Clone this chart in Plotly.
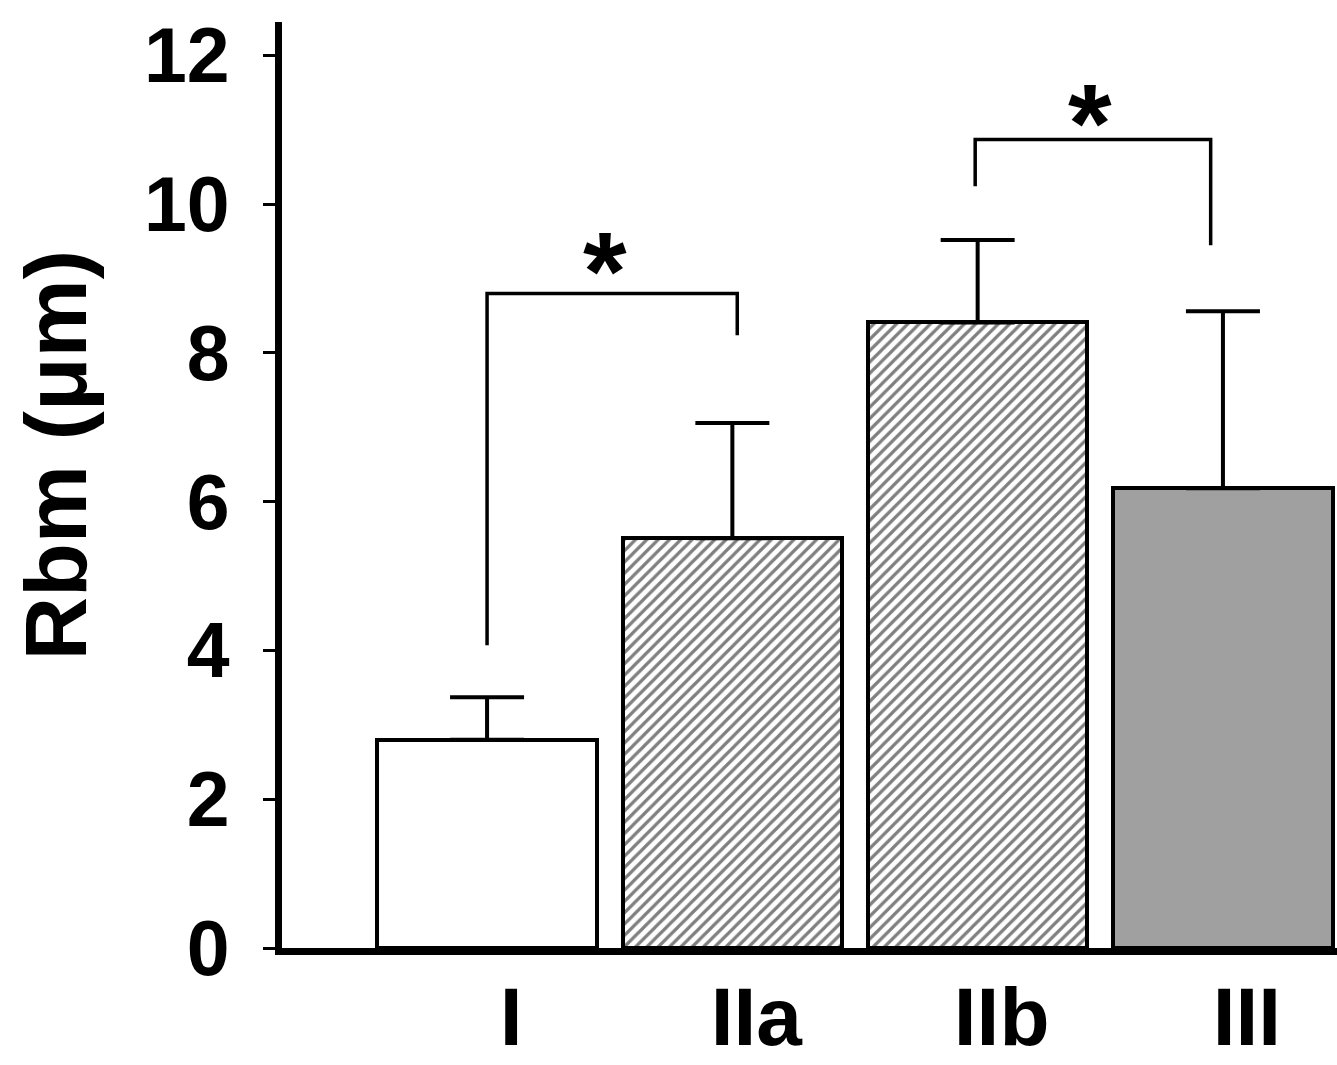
import plotly.graph_objects as go

# Basement-membrane radius (Rbm, µm) by group, mean with upper error
categories = ["I", "IIa", "IIb", "III"]
means = [2.80, 5.51, 8.41, 6.18]
errors = [0.57, 1.55, 1.11, 2.38]
y_ticks = [0, 2, 4, 6, 8, 10, 12]

# Bar styling per group: fill colour and hatch
fills = ["white", "white", "white", "#a0a0a0"]
hatched = [False, True, True, False]

# Significance brackets: (left x, right x, top y, left-leg bottom, right-leg bottom)
bracket_left_x = [0.0, 1.99]
bracket_right_x = [1.02, 2.95]
bracket_top = [8.80, 10.87]
bracket_left_low = [4.07, 10.24]
bracket_right_low = [8.24, 9.45]
star_x = [0.48, 2.46]
star_y = [9.45, 11.44]

FONT = "Liberation Sans, Arial, Helvetica, sans-serif"
xpos = list(range(len(categories)))

fig = go.Figure()

for i in xpos:
    marker = dict(color=fills[i], line=dict(color="black", width=4))
    if hatched[i]:
        marker["pattern"] = dict(shape="/", fgcolor="black", bgcolor="white",
                                 size=8, solidity=0.4)
    fig.add_trace(go.Bar(
        x=[xpos[i]],
        y=[means[i]],
        width=0.895,
        marker=marker,
        error_y=dict(type="data", symmetric=False, array=[errors[i]],
                     arrayminus=[0], color="black", thickness=4, width=37),
        showlegend=False,
        hoverinfo="skip",
    ))

for i in range(len(bracket_top)):
    fig.add_trace(go.Scatter(
        x=[bracket_left_x[i], bracket_left_x[i], bracket_right_x[i], bracket_right_x[i]],
        y=[bracket_left_low[i], bracket_top[i], bracket_top[i], bracket_right_low[i]],
        mode="lines",
        line=dict(color="black", width=3.5),
        showlegend=False,
        hoverinfo="skip",
    ))

for sx, sy in zip(star_x, star_y):
    fig.add_annotation(x=sx, y=sy, text="*", showarrow=False,
                       xanchor="center", yanchor="middle", yshift=-26,
                       font=dict(family=FONT, size=112, color="black", weight="bold"))

fig.add_annotation(
    text="Rbm (\u03bcm)", textangle=-90, showarrow=False,
    xref="paper", yref="paper", x=-0.215, y=0.532,
    xanchor="center", yanchor="middle",
    font=dict(family=FONT, size=88, color="black", weight="bold"),
)

fig.update_xaxes(
    range=[-0.836, 3.465],
    tickvals=xpos,
    ticktext=categories,
    ticks="",
    showline=True, linecolor="black", linewidth=7,
    showgrid=False, zeroline=False,
    tickfont=dict(family=FONT, size=82, color="black", weight="bold"),
    ticklabelshift=24,
    ticklabelstandoff=-8,
    automargin=False,
)
fig.update_yaxes(
    range=[0, 12.45],
    tickvals=y_ticks,
    ticks="outside", ticklen=12, tickwidth=3, tickcolor="black",
    showline=True, linecolor="black", linewidth=7,
    showgrid=False, zeroline=False,
    tickfont=dict(family=FONT, size=77, color="black", weight="bold"),
    ticklabelstandoff=18,
    automargin=False,
)

fig.update_layout(
    width=1337, height=1065,
    margin=dict(l=282, r=0, t=22, b=117),
    plot_bgcolor="white", paper_bgcolor="white",
    bargap=0,
)

fig.write_html("out.html")
